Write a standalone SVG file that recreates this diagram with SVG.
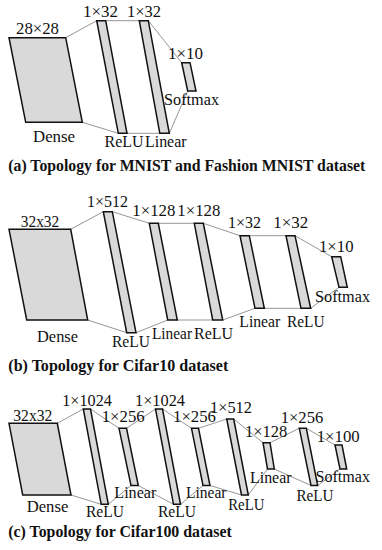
<svg xmlns="http://www.w3.org/2000/svg" width="382" height="550" viewBox="0 0 382 550">
<style>
.bar{fill:#d9d9d9;stroke:#111;stroke-width:1.5;stroke-linejoin:miter}
.con line{stroke:#8a8a8a;stroke-width:0.9}
.lbl{font-family:"Liberation Serif","Times New Roman",serif;font-size:16px;fill:#111}
.cap{font-family:"Liberation Serif","Times New Roman",serif;font-size:16px;font-weight:bold;fill:#111}
</style>
<rect width="382" height="550" fill="#fff"/>

<!-- Connectors -->
<g id="connectors" class="con">
  <!-- (a) -->
  <line x1="65.7" y1="37.7" x2="96.7" y2="20.7"/>
  <line x1="105.7" y1="20.7" x2="139.3" y2="20.7"/>
  <line x1="148.3" y1="20.7" x2="181.7" y2="62.7"/>
  <line x1="82.3" y1="122.3" x2="118.3" y2="133.3"/>
  <line x1="127" y1="133.3" x2="159.8" y2="133.3"/>
  <line x1="169.3" y1="133.3" x2="187.7" y2="91"/>
  <!-- (b) -->
  <line x1="70.7" y1="229.3" x2="103.3" y2="211.7"/>
  <line x1="112.3" y1="211.7" x2="149.3" y2="223.3"/>
  <line x1="158.3" y1="223.3" x2="194.3" y2="223.3"/>
  <line x1="203.3" y1="223.3" x2="240" y2="235.7"/>
  <line x1="249.3" y1="235.7" x2="286" y2="235.7"/>
  <line x1="295" y1="235.7" x2="331.7" y2="256.7"/>
  <line x1="87.7" y1="320" x2="126.7" y2="332.7"/>
  <line x1="136" y1="332.7" x2="167.7" y2="320"/>
  <line x1="177.3" y1="320" x2="212.7" y2="320"/>
  <line x1="222.7" y1="320" x2="255" y2="308.3"/>
  <line x1="264.3" y1="308.3" x2="301" y2="308.3"/>
  <line x1="310.7" y1="308.3" x2="339" y2="287.3"/>
  <!-- (c) -->
  <line x1="57.3" y1="423.3" x2="83.3" y2="409"/>
  <line x1="90.5" y1="409" x2="119" y2="428.3"/>
  <line x1="126.5" y1="428.3" x2="155.5" y2="409"/>
  <line x1="162.5" y1="409" x2="191.5" y2="428.3"/>
  <line x1="198.5" y1="428.3" x2="226.7" y2="419"/>
  <line x1="233.7" y1="419" x2="263" y2="442.7"/>
  <line x1="270" y1="442.7" x2="299.3" y2="428.3"/>
  <line x1="306.3" y1="428.3" x2="335" y2="445"/>
  <line x1="71" y1="495" x2="101.2" y2="504.3"/>
  <line x1="108.3" y1="504.3" x2="131" y2="485.5"/>
  <line x1="138.3" y1="485.5" x2="173.5" y2="504.3"/>
  <line x1="180.5" y1="504.3" x2="203" y2="485.5"/>
  <line x1="210" y1="485.5" x2="241.5" y2="495"/>
  <line x1="248.3" y1="495" x2="267.5" y2="469"/>
  <line x1="274.3" y1="469" x2="311" y2="485.5"/>
  <line x1="317.7" y1="485.5" x2="340" y2="469"/>
</g>

<!-- (a) MNIST -->
<g id="a-dense">
  <polygon class="bar" points="9,37.7 65.7,37.7 82.3,122.3 25.7,122.3"/>
  <text class="lbl" x="16" y="34" textLength="43" lengthAdjust="spacingAndGlyphs">28×28</text>
  <text class="lbl" x="33" y="142" textLength="42" lengthAdjust="spacingAndGlyphs">Dense</text>
</g>
<g id="a-relu">
  <polygon class="bar" points="96.7,20.7 105.7,20.7 127,133.3 118.3,133.3"/>
  <text class="lbl" x="83" y="16.7" textLength="35" lengthAdjust="spacingAndGlyphs">1×32</text>
  <text class="lbl" x="104.5" y="147" textLength="39" lengthAdjust="spacingAndGlyphs">ReLU</text>
</g>
<g id="a-linear">
  <polygon class="bar" points="139.3,20.7 148.3,20.7 169.3,133.3 159.8,133.3"/>
  <text class="lbl" x="127" y="16.7" textLength="34" lengthAdjust="spacingAndGlyphs">1×32</text>
  <text class="lbl" x="145" y="147" textLength="41.5" lengthAdjust="spacingAndGlyphs">Linear</text>
</g>
<g id="a-softmax">
  <polygon class="bar" points="181.7,62.7 190,62.7 196,91 187.7,91"/>
  <text class="lbl" x="168" y="59.3" textLength="35" lengthAdjust="spacingAndGlyphs">1×10</text>
  <text class="lbl" x="164" y="105" textLength="55" lengthAdjust="spacingAndGlyphs">Softmax</text>
</g>
<text id="cap-a" class="cap" x="8.3" y="170.5" textLength="357" lengthAdjust="spacingAndGlyphs">(a) Topology for MNIST and Fashion MNIST dataset</text>

<!-- (b) Cifar10 -->
<g id="b-dense">
  <polygon class="bar" points="9,229.3 70.7,229.3 87.7,320 26.7,320"/>
  <text class="lbl" x="20.7" y="226.5" textLength="38.6" lengthAdjust="spacingAndGlyphs">32x32</text>
  <text class="lbl" x="37" y="342" textLength="41" lengthAdjust="spacingAndGlyphs">Dense</text>
</g>
<g id="b-relu1">
  <polygon class="bar" points="103.3,211.7 112.3,211.7 136,332.7 126.7,332.7"/>
  <text class="lbl" x="87" y="207" textLength="41" lengthAdjust="spacingAndGlyphs">1×512</text>
  <text class="lbl" x="112" y="346.5" textLength="38" lengthAdjust="spacingAndGlyphs">ReLU</text>
</g>
<g id="b-linear1">
  <polygon class="bar" points="149.3,223.3 158.3,223.3 177.3,320 167.7,320"/>
  <text class="lbl" x="132.3" y="215.5" textLength="43" lengthAdjust="spacingAndGlyphs">1×128</text>
  <text class="lbl" x="152" y="339" textLength="40" lengthAdjust="spacingAndGlyphs">Linear</text>
</g>
<g id="b-relu2">
  <polygon class="bar" points="194.3,223.3 203.3,223.3 222.7,320 212.7,320"/>
  <text class="lbl" x="177.3" y="215.5" textLength="43" lengthAdjust="spacingAndGlyphs">1×128</text>
  <text class="lbl" x="194" y="339" textLength="39" lengthAdjust="spacingAndGlyphs">ReLU</text>
</g>
<g id="b-linear2">
  <polygon class="bar" points="240,235.7 249.3,235.7 264.3,308.3 255,308.3"/>
  <text class="lbl" x="228" y="228" textLength="33" lengthAdjust="spacingAndGlyphs">1×32</text>
  <text class="lbl" x="239.3" y="326.5" textLength="41" lengthAdjust="spacingAndGlyphs">Linear</text>
</g>
<g id="b-relu3">
  <polygon class="bar" points="286,235.7 295,235.7 310.7,308.3 301,308.3"/>
  <text class="lbl" x="273.3" y="228" textLength="35" lengthAdjust="spacingAndGlyphs">1×32</text>
  <text class="lbl" x="287" y="326.5" textLength="37.5" lengthAdjust="spacingAndGlyphs">ReLU</text>
</g>
<g id="b-softmax">
  <polygon class="bar" points="331.7,256.7 340.7,256.7 347.3,287.3 339,287.3"/>
  <text class="lbl" x="319" y="252" textLength="34.5" lengthAdjust="spacingAndGlyphs">1×10</text>
  <text class="lbl" x="315" y="302" textLength="55" lengthAdjust="spacingAndGlyphs">Softmax</text>
</g>
<text id="cap-b" class="cap" x="8.3" y="371" textLength="220" lengthAdjust="spacingAndGlyphs">(b) Topology for Cifar10 dataset</text>

<!-- (c) Cifar100 -->
<g id="c-dense">
  <polygon class="bar" points="9,423.3 57.3,423.3 71,495 22.7,495"/>
  <text class="lbl" x="13.3" y="421" textLength="39" lengthAdjust="spacingAndGlyphs">32x32</text>
  <text class="lbl" x="26.7" y="512.3" textLength="41.6" lengthAdjust="spacingAndGlyphs">Dense</text>
</g>
<g id="c-relu1">
  <polygon class="bar" points="83.3,409 90.5,409 108.3,504.3 101.2,504.3"/>
  <text class="lbl" x="62.3" y="405.5" textLength="49.5" lengthAdjust="spacingAndGlyphs">1×1024</text>
  <text class="lbl" x="86" y="516.7" textLength="38" lengthAdjust="spacingAndGlyphs">ReLU</text>
</g>
<g id="c-linear1">
  <polygon class="bar" points="119,428.3 126.5,428.3 138.3,485.5 131,485.5"/>
  <text class="lbl" x="101.7" y="422" textLength="43" lengthAdjust="spacingAndGlyphs">1×256</text>
  <text class="lbl" x="114.3" y="498.3" textLength="42" lengthAdjust="spacingAndGlyphs">Linear</text>
</g>
<g id="c-relu2">
  <polygon class="bar" points="155.5,409 162.5,409 180.5,504.3 173.5,504.3"/>
  <text class="lbl" x="135" y="405.5" textLength="50" lengthAdjust="spacingAndGlyphs">1×1024</text>
  <text class="lbl" x="158" y="516.7" textLength="38" lengthAdjust="spacingAndGlyphs">ReLU</text>
</g>
<g id="c-linear2">
  <polygon class="bar" points="191.5,428.3 198.5,428.3 210,485.5 203,485.5"/>
  <text class="lbl" x="173" y="422" textLength="43" lengthAdjust="spacingAndGlyphs">1×256</text>
  <text class="lbl" x="186" y="498.3" textLength="40.5" lengthAdjust="spacingAndGlyphs">Linear</text>
</g>
<g id="c-relu3">
  <polygon class="bar" points="226.7,419 233.7,419 248.3,495 241.5,495"/>
  <text class="lbl" x="210" y="413.3" textLength="42" lengthAdjust="spacingAndGlyphs">1×512</text>
  <text class="lbl" x="228.3" y="509.5" textLength="36" lengthAdjust="spacingAndGlyphs">ReLU</text>
</g>
<g id="c-linear3">
  <polygon class="bar" points="263,442.7 270,442.7 274.3,469 267.5,469"/>
  <text class="lbl" x="245" y="437.3" textLength="42.3" lengthAdjust="spacingAndGlyphs">1×128</text>
  <text class="lbl" x="250" y="483.3" textLength="41.5" lengthAdjust="spacingAndGlyphs">Linear</text>
</g>
<g id="c-relu4">
  <polygon class="bar" points="299.3,428.3 306.3,428.3 317.7,485.5 311,485.5"/>
  <text class="lbl" x="280.7" y="423.3" textLength="42.6" lengthAdjust="spacingAndGlyphs">1×256</text>
  <text class="lbl" x="296.5" y="501" textLength="37" lengthAdjust="spacingAndGlyphs">ReLU</text>
</g>
<g id="c-softmax">
  <polygon class="bar" points="335,445 342,445 346.7,469 340,469"/>
  <text class="lbl" x="316.7" y="441.7" textLength="43" lengthAdjust="spacingAndGlyphs">1×100</text>
  <text class="lbl" x="315.5" y="481.7" textLength="54.5" lengthAdjust="spacingAndGlyphs">Softmax</text>
</g>
<text id="cap-c" class="cap" x="8.3" y="537" textLength="223.4" lengthAdjust="spacingAndGlyphs">(c) Topology for Cifar100 dataset</text>
</svg>
